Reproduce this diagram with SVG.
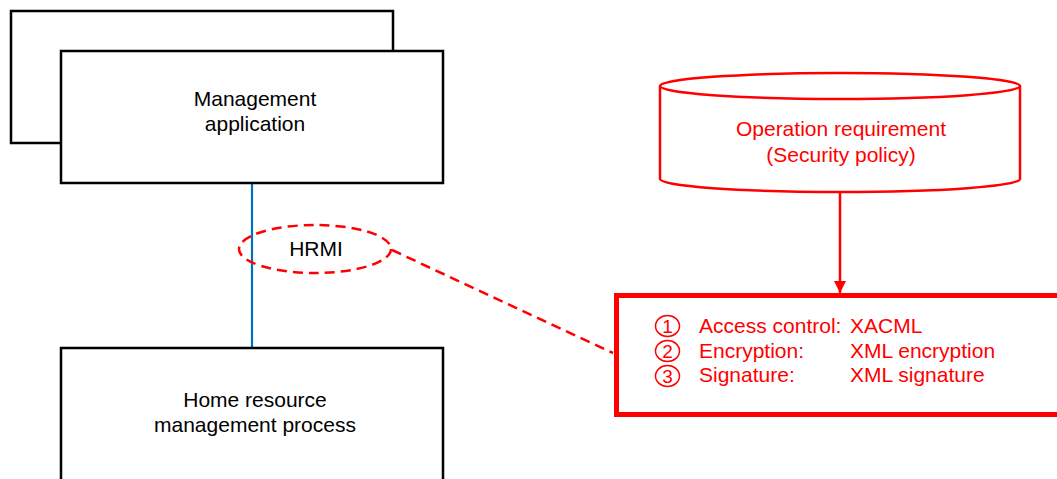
<svg xmlns="http://www.w3.org/2000/svg" width="1057" height="479" viewBox="0 0 1057 479">
<style>
.box{fill:#fff;stroke:#000;stroke-width:2.5}
.t{font-family:"Liberation Sans",Arial,sans-serif;font-size:21px;fill:#000;text-anchor:middle}
.r{fill:#ff0000}
.rs{fill:none;stroke:#ff0000}
.l{font-family:"Liberation Sans",Arial,sans-serif;font-size:21px;fill:#ff0000}
.cc{fill:none;stroke:#ff0000;stroke-width:1.5}
.d{font-family:"Liberation Sans",Arial,sans-serif;font-size:19px;fill:#ff0000;text-anchor:middle}
</style>
<defs>
<marker id="ah" viewBox="0 0 10 10" refX="10" refY="5" markerWidth="12" markerHeight="12" markerUnits="userSpaceOnUse" orient="auto">
<path d="M0,0L10,5L0,10z" fill="#ff0000"/>
</marker>
</defs>
<g id="connectors">
<line x1="252" y1="183" x2="252" y2="348" stroke="#0070c0" stroke-width="2.2"/>
<line x1="392" y1="250" x2="613" y2="353" class="rs" stroke-width="2.5" stroke-dasharray="10,6"/>
<line x1="840" y1="191" x2="840" y2="293" class="rs" stroke-width="2.5" marker-end="url(#ah)"/>
</g>
<g id="mgmt-app-back">
<rect x="11" y="11" width="382" height="132" class="box"/>
</g>
<g id="mgmt-app">
<rect x="61" y="51" width="382" height="132" class="box"/>
<text class="t" x="255" y="106">Management</text>
<text class="t" x="255" y="131">application</text>
</g>
<g id="hrmi">
<ellipse cx="315" cy="249" rx="76" ry="24" class="rs" stroke-width="2.5" stroke-dasharray="10,6"/>
<text class="t" x="316" y="256">HRMI</text>
</g>
<g id="home-resource">
<rect x="61" y="348" width="382" height="140" class="box"/>
<text class="t" x="255" y="407">Home resource</text>
<text class="t" x="255" y="432">management process</text>
</g>
<g id="operation-requirement">
<path d="M660,86 L660,179 A180,13 0 0 0 1020,179 L1020,86" fill="#fff" stroke="#ff0000" stroke-width="2.5"/>
<ellipse cx="840" cy="86" rx="180" ry="13" fill="#fff" stroke="#ff0000" stroke-width="2.5"/>
<text class="t r" x="841" y="136">Operation requirement</text>
<text class="t r" x="841" y="162">(Security policy)</text>
</g>
<g id="security-box">
<rect x="616.5" y="295.5" width="460" height="119" class="rs" stroke-width="5" fill="#fff"/>
<ellipse class="cc" cx="667.5" cy="326" rx="12" ry="10.5"/>
<ellipse class="cc" cx="667.5" cy="351" rx="12" ry="10.5"/>
<ellipse class="cc" cx="667.5" cy="376" rx="12" ry="10.5"/>
<text class="d" x="667.5" y="333">1</text>
<text class="d" x="667.5" y="358">2</text>
<text class="d" x="667.5" y="383">3</text>
<text class="l" x="699" y="333">Access control:</text>
<text class="l" x="699" y="358">Encryption:</text>
<text class="l" x="699" y="382">Signature:</text>
<text class="l" x="850" y="333">XACML</text>
<text class="l" x="850" y="358">XML encryption</text>
<text class="l" x="850" y="382">XML signature</text>
</g>
</svg>
